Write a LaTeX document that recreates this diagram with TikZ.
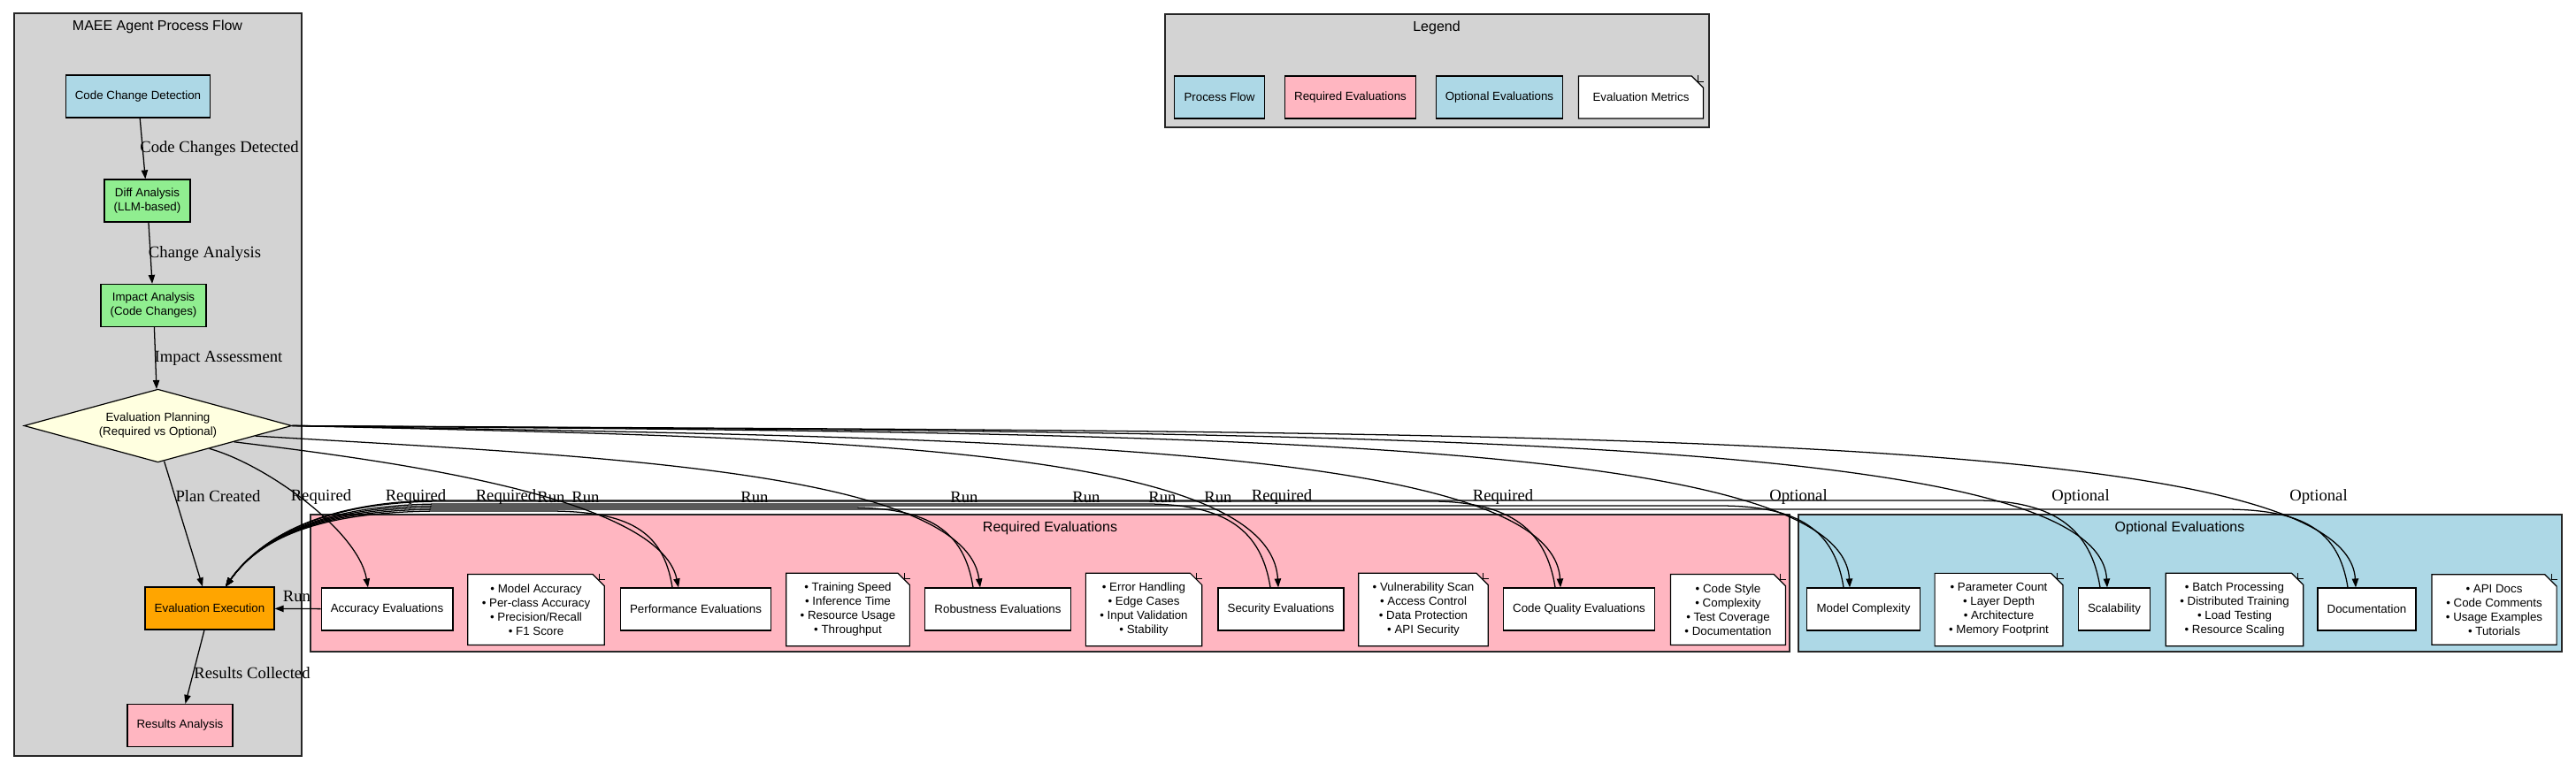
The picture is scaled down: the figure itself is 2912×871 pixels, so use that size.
\documentclass[tikz,border=0pt]{standalone}
\usepackage{fontspec}
\setmainfont{Liberation Sans}
\newfontfamily\lblfont{Liberation Serif}
\usetikzlibrary{shapes.geometric,shapes.misc,arrows.meta,calc}

\definecolor{lblue}{HTML}{ADD8E6}
\definecolor{lgreen}{HTML}{90EE90}
\definecolor{lyellow}{HTML}{FFFFE0}
\definecolor{lorange}{HTML}{FFA500}
\definecolor{lpink}{HTML}{FFB6C1}
\definecolor{lgrey}{HTML}{D3D3D3}

\begin{document}
\begin{tikzpicture}
		[
			x=0.75pt, y=-0.75pt,
			procbox/.style = {rectangle, align=center, draw=black, line width=0.9pt, font=\fontsize{10}{12}\selectfont, inner xsep=8pt, inner ysep=2pt, minimum height=36pt},
			evalbox/.style = {procbox, fill=white},
			notebox/.style = {chamfered rectangle, chamfered rectangle corners=north east, chamfered rectangle sep=5pt, align=center, draw=black, line width=0.9pt, fill=white, font=\fontsize{10}{12}\selectfont, inner xsep=7pt, minimum height=56pt},
			decision/.style = {diamond, aspect=3.6, align=center, draw=black, line width=0.9pt, fill=lyellow, font=\fontsize{10}{12}\selectfont, inner sep=0pt, minimum width=227pt, minimum height=62pt},
			cluster/.style = {draw=black!85, line width=0.9pt},
			ctitle/.style = {font=\fontsize{12}{14}\selectfont},
			lbl/.style = {font=\lblfont\fontsize{14}{16}\selectfont, inner sep=0pt},
			flow/.style = {line width=0.95pt, -{Triangle[length=7.5pt,width=5.5pt]}},
		]

		\useasboundingbox (0,0) rectangle (2912,871);

		% clusters
		\draw[cluster, fill=lgrey] (16,15)    rectangle (341,855);
		\draw[cluster, fill=lgrey] (1317,16)  rectangle (1932,144);
		\draw[cluster, fill=lpink] (351,582)  rectangle (2023,737);
		\draw[cluster, fill=lblue] (2033,582) rectangle (2896,737);

		\node[ctitle] (tflow) at (178,30)   {MAEE Agent Process Flow};
		\node[ctitle] (tleg)  at (1624,31)  {Legend};
		\node[ctitle] (treq)  at (1187,597) {Required Evaluations};
		\node[ctitle] (topt)  at (2464,597) {Optional Evaluations};

		% process flow
		\node[procbox, fill=lblue]   (detect)  at (156,109)     {Code Change Detection};
		\node[procbox, fill=lgreen]  (diff)    at (166.5,227)   {Diff Analysis\\(LLM-based)};
		\node[procbox, fill=lgreen]  (impact)  at (173.5,345.5) {Impact Analysis\\(Code Changes)};
		\node[decision]              (plan)    at (178.5,481.5) {Evaluation Planning\\(Required vs Optional)};
		\node[procbox, fill=lorange] (exec)    at (237,688)     {Evaluation Execution};
		\node[procbox, fill=lpink]   (results) at (203.5,820.5) {Results Analysis};

		% required evaluations
		\node[evalbox]  (acc)   at (437.5,689)  {Accuracy Evaluations};
		\node[notebox]  (note1) at (606,689.5)  {• Model Accuracy\\• Per-class Accuracy\\• Precision/Recall\\• F1 Score};
		\node[evalbox]  (perf)  at (786.5,689)  {Performance Evaluations};
		\node[notebox]  (note2) at (958.5,689.5) {• Training Speed\\• Inference Time\\• Resource Usage\\• Throughput};
		\node[evalbox]  (rob)   at (1128,689)   {Robustness Evaluations};
		\node[notebox]  (note3) at (1293,689.5) {• Error Handling\\• Edge Cases\\• Input Validation\\• Stability};
		\node[evalbox]  (sec)   at (1448,689)   {Security Evaluations};
		\node[notebox]  (note4) at (1609,689.5) {• Vulnerability Scan\\• Access Control\\• Data Protection\\• API Security};
		\node[evalbox]  (cq)    at (1785,689)   {Code Quality Evaluations};
		\node[notebox]  (note5) at (1953.5,689.5) {• Code Style\\• Complexity\\• Test Coverage\\• Documentation};

		% optional evaluations
		\node[evalbox]  (mc)    at (2106.5,689) {Model Complexity};
		\node[notebox]  (note6) at (2259.5,689.5) {• Parameter Count\\• Layer Depth\\• Architecture\\• Memory Footprint};
		\node[evalbox]  (scal)  at (2390,689)   {Scalability};
		\node[notebox]  (note7) at (2526,689.5) {• Batch Processing\\• Distributed Training\\• Load Testing\\• Resource Scaling};
		\node[evalbox]  (doc)   at (2675.5,689) {Documentation};
		\node[notebox]  (note8) at (2819.5,689.5) {• API Docs\\• Code Comments\\• Usage Examples\\• Tutorials};

		% legend
		\node[procbox, fill=lblue] (lflow) at (1378.5,110) {Process Flow};
		\node[procbox, fill=lpink] (lreq)  at (1526.5,110) {Required Evaluations};
		\node[procbox, fill=lblue] (lopt)  at (1695,110)   {Optional Evaluations};
		\node[notebox, minimum height=36pt] (lmet) at (1855,110) {Evaluation Metrics};

		\foreach \n in {note1,note2,note3,note4,note5,note6,note7,note8,lmet}
		\draw[line width=0.8pt] (\n.north -| \n.east) ++(-5pt,0) |- ++(5pt,-5pt);

		% connectors
		\draw[flow] (detect) -- (diff);
		\draw[flow] (diff) -- (impact);
		\draw[flow] (impact) -- (plan);
		\draw[flow] (plan.-80) -- ([xshift=-6pt]exec.north);
		\draw[flow] ([xshift=-4.5pt]exec.south) -- ([xshift=4.5pt]results.north);
		\draw[flow] (acc) -- (exec);
		\coordinate (runin) at ([xshift=13.5pt]exec.north);

		\foreach \dst/\ang/\ax/\ay/\bx/\by/\dx in {acc/-24/300/525/405/600/-21.5, perf/-12/430/520/745/560/-19.5, rob/-6/650/515/1090/530/-20, sec/0/900/495/1435/500/-3, cq/0/1100/495/1755/500/-21, mc/0/1300/490/2082/490/-15.5, scal/0/1500/490/2372/485/-8, doc/0/1700/490/2652/480/-12.5}
		\draw[flow] (plan.\ang) .. controls (\ax,\ay) and (\bx,\by) .. ($(\dst.north)+(\dx,0)$);

		\foreach \src/\dx/\sx/\yk in {perf/-26.5/760/578, rob/-28/1100/574, sec/-12/1436/570, cq/-27/1758/567, mc/-22.5/2084/572, scal/-16/2374/566, doc/-21.5/2654/576}
		\draw[flow] ($(\src.north)+(\dx,0)$) .. controls (\sx-10,600) and (\sx-50,\yk) .. (\sx-140,\yk) -- (500,\yk) .. controls (380,\yk) and (300,600) .. (runin);

		% edge labels
		\node[lbl] (lcc)  at (248,168)   {Code Changes Detected};
		\node[lbl] (lca)  at (231.5,287) {Change Analysis};
		\node[lbl] (lia)  at (247,405)   {Impact Assessment};
		\node[lbl] (lpc)  at (246.5,561) {Plan Created};
		\node[lbl] (lrc)  at (285,761)   {Results Collected};
		\node[lbl] (lrun) at (335.5,674) {Run};
		\foreach \x/\t [count=\i] in {363/Required, 470/Required, 572/Required, 623/Run, 662/Run, 853/Run, 1090/Run, 1228/Run, 1314/Run, 1377/Run, 1449/Required, 1699/Required, 2033/Optional, 2352/Optional, 2621/Optional}
		\node[lbl] (top\i) at (\x,562) {\t};

\end{tikzpicture}
\end{document}
